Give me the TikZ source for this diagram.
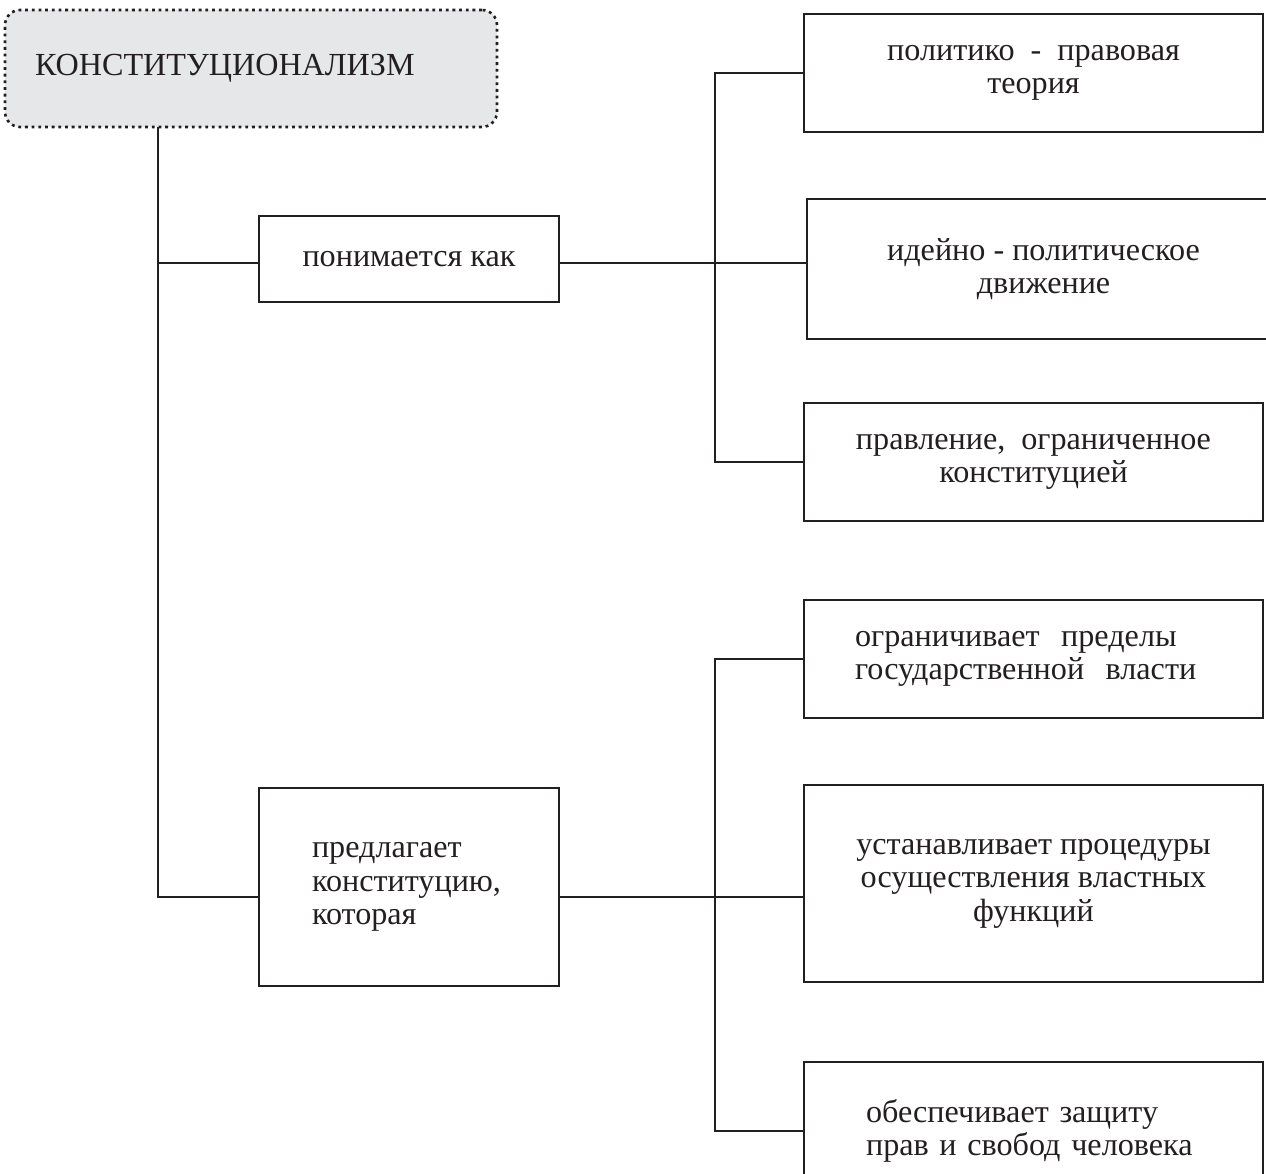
\documentclass[tikz,border=0pt]{standalone}
\usepackage{fontspec}
\setmainfont{Liberation Serif}
\definecolor{ink}{HTML}{231F20}
\definecolor{shade}{HTML}{E6E7E8}
\begin{document}
\begin{tikzpicture}[x=0.02cm, y=-0.02cm,
        every node/.style={font=\fontsize{18.3}{19}\selectfont, text=ink},
        box/.style={draw=ink, line width=0.8pt, minimum width=9.18cm, minimum height=2.36cm, align=center},
        link/.style={draw=ink, line width=0.8pt}]
            \useasboundingbox (0,0) rectangle (1266,1173);
            \clip (0,0) rectangle (1266,1173);
            \node[draw=ink, fill=shade, line width=1.5pt, dash pattern=on 1.6pt off 2.2pt, rounded corners=0.3cm,
                minimum width=9.84cm, minimum height=2.34cm, text width=8.64cm, align=left, inner xsep=0.6cm] (0) at (251,68.5) {КОНСТИТУЦИОНАЛИЗМ};
            \node[box, minimum width=6cm, minimum height=1.72cm] (1) at (409,259) {понимается как};
            \node[box, minimum width=6cm, minimum height=3.96cm, text width=3.88cm, align=left] (2) at (409,887) {предлагает\\конституцию,\\которая};
            \node[box] (3) at (1033.5,73) {политико~ - ~правовая\\теория};
            \node[box, minimum width=9.46cm, minimum height=2.8cm] (4) at (1043.5,269) {идейно - политическое\\движение};
            \node[box] (5) at (1033.5,462) {правление,~ ограниченное\\конституцией};
            \node[box, text width=7.14cm, align=left] (6) at (1033.5,659) {ограничивает~ пределы\\государственной~ власти};
            \node[box, minimum height=3.94cm] (7) at (1033.5,883.5) {устанавливает процедуры\\осуществления властных\\функций};
            \node[box, minimum height=2.76cm, text width=6.7cm, align=left] (8) at (1033.5,1131) {обеспечивает защиту\\прав и свобод человека};
            \coordinate (t) at (158,127);
            \coordinate (j1) at (715,263);
            \coordinate (j2) at (715,897);
            \draw[link] (t) |- (1.west |- j1);
            \draw[link] (t) |- (2.west |- j2);
            \draw[link] (1.east |- j1) -- (4.west |- j1);
            \draw[link] (2.east |- j2) -- (7.west |- j2);
            \draw[link] (3.west) -| (j1) |- (5.west);
            \draw[link] (6.west) -| (j2) |- (8.west);
            % \draw[link] (0.south) -- (1.north);
        \end{tikzpicture}
\end{document}
